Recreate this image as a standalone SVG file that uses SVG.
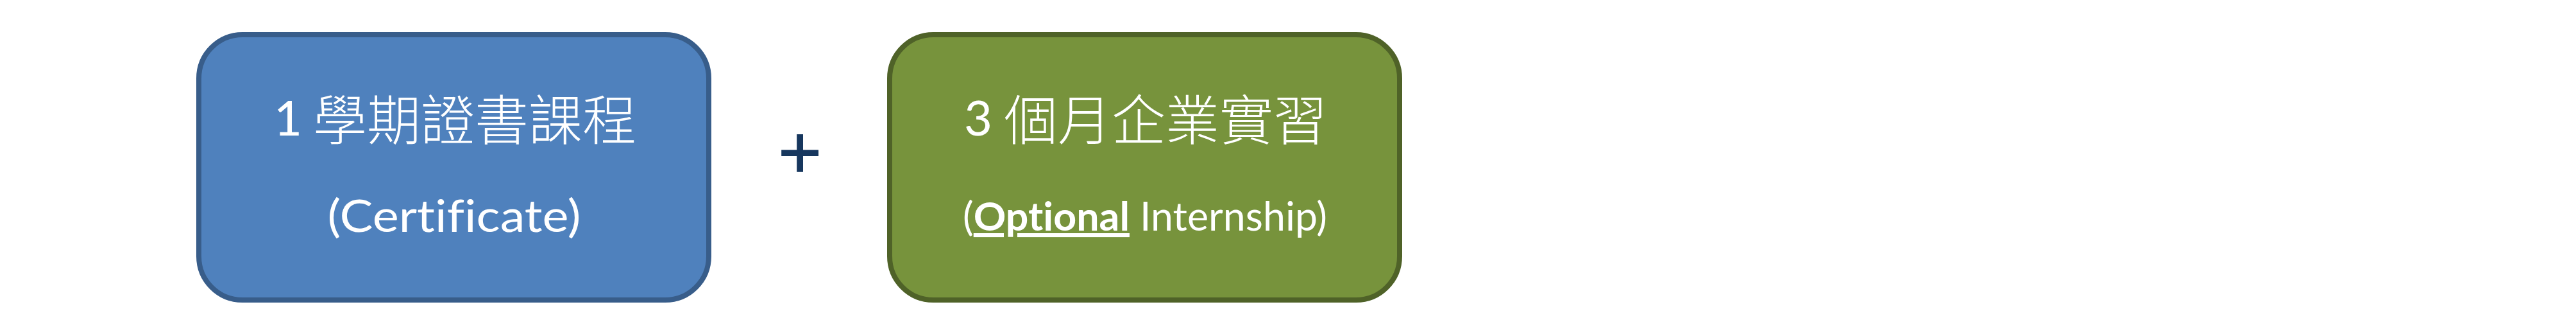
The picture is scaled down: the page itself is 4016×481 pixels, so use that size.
<svg xmlns="http://www.w3.org/2000/svg" width="4016" height="481" viewBox="0 0 4016 481">
<style>
.box{stroke-width:8}
.blue{fill:#4F81BD;stroke:#385D8A}
.green{fill:#77933C;stroke:#4F6228}
.t{fill:#FFFFFF;font-variant-ligatures:none;font-feature-settings:"liga" 0,"clig" 0}
.lat{font-family:Lato,"Liberation Sans","Noto Sans CJK TC",sans-serif}
.cjk{font-family:"Noto Sans CJK TC","Noto Sans CJK SC",sans-serif;font-size:84px;font-weight:300}
.plus{fill:#17375E;stroke:#17375E;stroke-width:1.5;font-family:"Liberation Sans",Arial,sans-serif;font-size:116px}
</style>
<rect width="4016" height="481" fill="#FFFFFF"/>
<g id="node-certificate">
<rect class="box blue" x="310" y="54" width="795" height="413" rx="68" ry="68"/>
<text class="t" y="211"><tspan class="lat" x="427" font-size="76">1</tspan><tspan class="cjk" x="488" y="218">學期證書課程</tspan></text>
<text class="t lat" x="708" y="361" font-size="70" text-anchor="middle" textLength="395" lengthAdjust="spacingAndGlyphs">(Certificate)</text>
</g>
<g id="node-plus">
<text class="plus" x="1247" y="277" text-anchor="middle">+</text>
</g>
<g id="node-internship">
<rect class="box green" x="1387" y="54" width="795" height="413" rx="68" ry="68"/>
<text class="t" y="211"><tspan class="lat" x="1503" font-size="76">3</tspan><tspan class="cjk" x="1565" y="218">個月企業實習</tspan></text>
<text class="t lat" x="1785" y="359" font-size="61" text-anchor="middle" textLength="568" lengthAdjust="spacingAndGlyphs">(<tspan font-weight="bold" text-decoration="underline">Optional</tspan> Internship)</text>
</g>
<g id="connectors"></g>
</svg>
